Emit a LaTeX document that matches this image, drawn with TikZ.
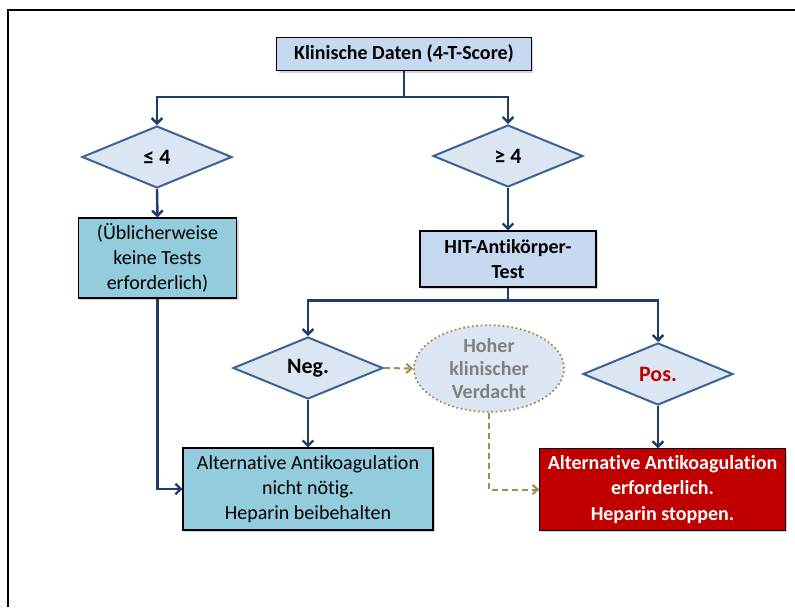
\documentclass[tikz,border=0pt]{standalone}
\usepackage{fontspec}
\setmainfont[RawFeature={-liga;-clig;-calt;-dlig}]{Carlito}
\usetikzlibrary{shapes.geometric,shadows,arrows.meta}

\definecolor{linie}{HTML}{1F3D6B}
\definecolor{rautenrand}{HTML}{3C6396}
\definecolor{hellblau}{HTML}{DCE6F2}
\definecolor{kastenblau}{HTML}{C6D9F1}
\definecolor{tuerkis}{HTML}{93CDDD}
\definecolor{dunkelrot}{HTML}{C00000}
\definecolor{oliv}{HTML}{9C8F50}
\definecolor{grautext}{HTML}{808080}

\begin{document}
\begin{tikzpicture}[x=0.75pt,y=-0.75pt,
    kasten/.style={draw=black, line width=0.8pt, align=center, inner sep=1pt,
        drop shadow={shadow xshift=1.5pt, shadow yshift=-1.5pt, opacity=0.35},
        font=\fontsize{15}{19}\selectfont},
    raute/.style={diamond, draw=rautenrand, fill=hellblau, line width=1.5pt,
        inner sep=0pt, minimum width=112.5pt, minimum height=46.5pt,
        font=\fontsize{16.5}{18}\selectfont\bfseries},
    verbinder/.style={draw=linie, line width=1.8pt, -{Straight Barb[length=4pt,width=8pt]}},
    strichel/.style={draw=oliv, line width=1.5pt, dash pattern=on 4.5pt off 3pt,
        -{Straight Barb[length=4pt,width=7pt]}}]
  \useasboundingbox (0,0) rectangle (795,607);
  \draw[line width=1.1pt] (8,607) -- (8,10) -- (795,10);

  \node[kasten, fill=kastenblau, font=\fontsize{15}{19}\selectfont\bfseries,
        minimum width=191pt, minimum height=24.75pt] (kopf) at (404,54) {Klinische Daten (4-T-Score)};

  \node[raute] (kleiner) at (157,157) {≤ 4};
  \node[raute] (groesser) at (508,156) {≥ 4};

  \node[kasten, fill=tuerkis, minimum width=119pt, minimum height=60pt]
        (kein) at (157.5,258) {(Üblicherweise\\keine Tests\\erforderlich)};
  \node[kasten, fill=kastenblau, font=\fontsize{15}{19}\selectfont\bfseries,
        minimum width=132pt, minimum height=42pt] (hit) at (508,259) {HIT-Antikörper-\\Test};

  \node[raute] (neg) at (308,368) {Neg.};
  \node[raute, text=dunkelrot] (pos) at (658,374) {Pos.};

  \node[ellipse, draw=oliv, fill=hellblau, line width=1.3pt, dotted,
        minimum width=112.5pt, minimum height=65pt, inner sep=0pt, align=center,
        text=grautext, font=\fontsize{15}{17.5}\selectfont\bfseries]
        (verdacht) at (489,368.5) {Hoher\\klinischer\\Verdacht};

  \node[kasten, fill=tuerkis, minimum width=187.5pt, minimum height=61.5pt]
        (nicht) at (308,489) {Alternative Antikoagulation\\nicht nötig.\\Heparin beibehalten};
  \node[kasten, fill=dunkelrot, text=white, font=\fontsize{15}{19}\selectfont\bfseries,
        minimum width=184pt, minimum height=61pt]
        (rot) at (662.5,489.5) {Alternative Antikoagulation\\erforderlich.\\Heparin stoppen.};

  % Verbindungen
  \draw[verbinder] (kopf.south) -- ++(0,26) -| (kleiner.north);
  \draw[verbinder] (kopf.south) -- ++(0,26) -| (groesser.north);
  \draw[verbinder] (kleiner.south) -- (kein.north);
  \draw[verbinder] (groesser.south) -- (hit.north);
  \draw[verbinder] (hit.south) -- ++(0,13) -| (neg.north);
  \draw[verbinder] (hit.south) -- ++(0,13) -| (pos.north);
  \draw[verbinder] (neg.south) -- (nicht.north);
  \draw[verbinder] (pos.south) -- (pos.south |- rot.north);
  \draw[verbinder] (kein.south) |- (nicht.west);

  \draw[strichel] (neg.east) -- (verdacht.west);
  \draw[strichel] (verdacht.south) |- (rot.west);
\end{tikzpicture}
\end{document}
